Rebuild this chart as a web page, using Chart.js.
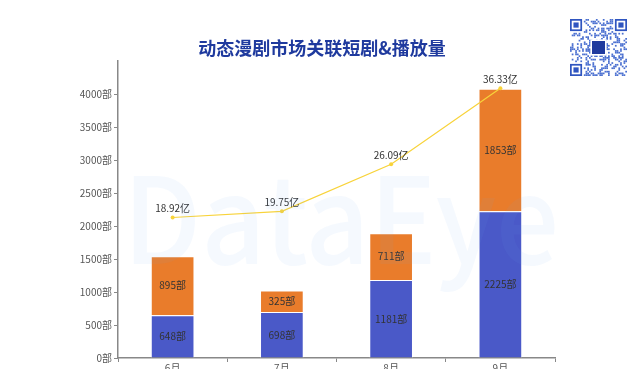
<!DOCTYPE html>
<html>
<head>
<meta charset="utf-8">
<script src="https://cdn.jsdelivr.net/npm/chart.js@4/dist/chart.umd.min.js"></script>
<style>
  html, body { margin: 0; padding: 0; background: #fff; overflow: hidden; }
  #wrap { width: 640px; height: 380px; }
</style>
</head>
<body>
<div id="wrap"><canvas id="c" width="640" height="380"></canvas></div>
<script>
'use strict';
// 数据
var months = ['6月', '7月', '8月', '9月'];
var blueSeries = [648, 698, 1181, 2225];
var orangeSeries = [895, 325, 711, 1853];
var playCount = [18.92, 19.75, 26.09, 36.33]; // 亿
var yTicks = [0, 500, 1000, 1500, 2000, 2500, 3000, 3500, 4000];

var FONT = '"Noto Sans CJK SC", "Noto Sans", sans-serif';

// 标题 + 二维码 + 水印
var decoPlugin = {
  id: 'deco',
  afterDraw: function(chart) {
    var ctx = chart.ctx;
    ctx.save();
    // 水印（叠在最上层，很淡）
    ctx.font = '500 120px "Noto Sans CJK SC", sans-serif';
    ctx.textBaseline = 'alphabetic';
    ctx.textAlign = 'left';
    var w = ctx.measureText('DataEye').width;
    ctx.save();
    ctx.translate(123, 264);
    ctx.scale(436 / w, 1);
    ctx.fillStyle = 'rgba(110,170,235,0.07)';
    ctx.fillText('DataEye', 0, 0);
    ctx.restore();

    ctx.fillStyle = '#1f3a9e';
    ctx.font = 'bold 18px ' + FONT;
    ctx.textAlign = 'center';
    ctx.textBaseline = 'middle';
    ctx.fillText('动态漫剧市场关联短剧&播放量', 322, 48);
    drawQr(ctx, 570, 19, 57);
    ctx.restore();
  }
};

function drawQr(ctx, x, y, size) {
  var n = 33, s = size / n;
  ctx.fillStyle = '#4a6fd0';
  var seed = 11;
  for (var i = 0; i < n; i++) {
    for (var j = 0; j < n; j++) {
      seed = (seed * 1103515245 + 12345) & 0x7fffffff;
      if ((i < 8 && j < 8) || (i < 8 && j > n - 9) || (i > n - 9 && j < 8)) continue;
      if ((seed >> 8) % 100 < 36) ctx.fillRect(x + j * s, y + i * s, s, s);
    }
  }
  [[0, 0], [0, n - 7], [n - 7, 0]].forEach(function(p) {
    var fx = x + p[1] * s, fy = y + p[0] * s;
    ctx.fillStyle = '#2f55c0';
    ctx.fillRect(fx, fy, 7 * s, 7 * s);
    ctx.fillStyle = '#fff';
    ctx.fillRect(fx + s, fy + s, 5 * s, 5 * s);
    ctx.fillStyle = '#2f55c0';
    ctx.fillRect(fx + 2 * s, fy + 2 * s, 3 * s, 3 * s);
  });
  ctx.fillStyle = '#fff';
  ctx.fillRect(x + size / 2 - 8, y + size / 2 - 8, 16, 16);
  ctx.fillStyle = '#1f3a9e';
  ctx.fillRect(x + size / 2 - 6.5, y + size / 2 - 6.5, 13, 13);
}

// 数据标签
var labelPlugin = {
  id: 'labels',
  afterDatasetsDraw: function(chart) {
    var ctx = chart.ctx;
    ctx.save();
    ctx.font = '10px ' + FONT;
    ctx.textAlign = 'center';
    ctx.textBaseline = 'middle';
    ctx.fillStyle = '#333';
    [0, 1].forEach(function(di) {
      var meta = chart.getDatasetMeta(di);
      meta.data.forEach(function(bar, i) {
        var v = chart.data.datasets[di].data[i];
        ctx.fillText(v + '部', bar.x, (bar.y + bar.base) / 2);
      });
    });
    var lm = chart.getDatasetMeta(2);
    lm.data.forEach(function(pt, i) {
      ctx.fillText(playCount[i].toFixed(2) + '亿', pt.x, pt.y - 9);
    });
    ctx.restore();
  }
};

var ctx = document.getElementById('c').getContext('2d');
new Chart(ctx, {
  data: {
    labels: months,
    datasets: [
      {
        type: 'bar', label: 'a', data: blueSeries,
        backgroundColor: '#4a59c8', borderColor: 'rgba(255,255,255,0.7)', borderWidth: 1,
        stack: 's', barPercentage: 0.4, categoryPercentage: 1, order: 2
      },
      {
        type: 'bar', label: 'b', data: orangeSeries,
        backgroundColor: '#e97c2b', borderColor: 'rgba(255,255,255,0.7)', borderWidth: 1,
        stack: 's', barPercentage: 0.4, categoryPercentage: 1, order: 2
      },
      {
        type: 'line', label: 'c', data: playCount, yAxisID: 'y2',
        borderColor: '#f8d33a', backgroundColor: '#f8d33a', borderWidth: 1.2,
        pointRadius: 2, pointBackgroundColor: '#f8d33a', pointBorderWidth: 0,
        tension: 0, order: 1
      }
    ]
  },
  options: {
    responsive: false,
    animation: false,
    layout: { padding: { left: 0, right: 85, top: 61, bottom: 0 } },
    plugins: { legend: { display: false }, tooltip: { enabled: false } },
    scales: {
      x: {
        stacked: true,
        grid: { drawOnChartArea: false, tickLength: 4, color: '#888' },
        border: { color: '#888', width: 1.5 },
        ticks: { color: '#555', font: { size: 10, family: FONT }, padding: 0 },
        afterFit: function(s) { s.height = 22; }
      },
      y: {
        stacked: true, min: 0, max: 4500,
        afterBuildTicks: function(s) { s.ticks = yTicks.map(function(v) { return { value: v }; }); },
        grid: { drawOnChartArea: false, tickLength: 4, color: '#888' },
        border: { color: '#888', width: 1.5 },
        ticks: {
          color: '#555', font: { size: 10, family: FONT }, padding: 2,
          callback: function(v) { return v + '部'; }
        },
        afterFit: function(s) { s.width = 118; }
      },
      y2: { display: false, min: 0, max: 40 }
    }
  },
  plugins: [decoPlugin, labelPlugin]
});
</script>
</body>
</html>
